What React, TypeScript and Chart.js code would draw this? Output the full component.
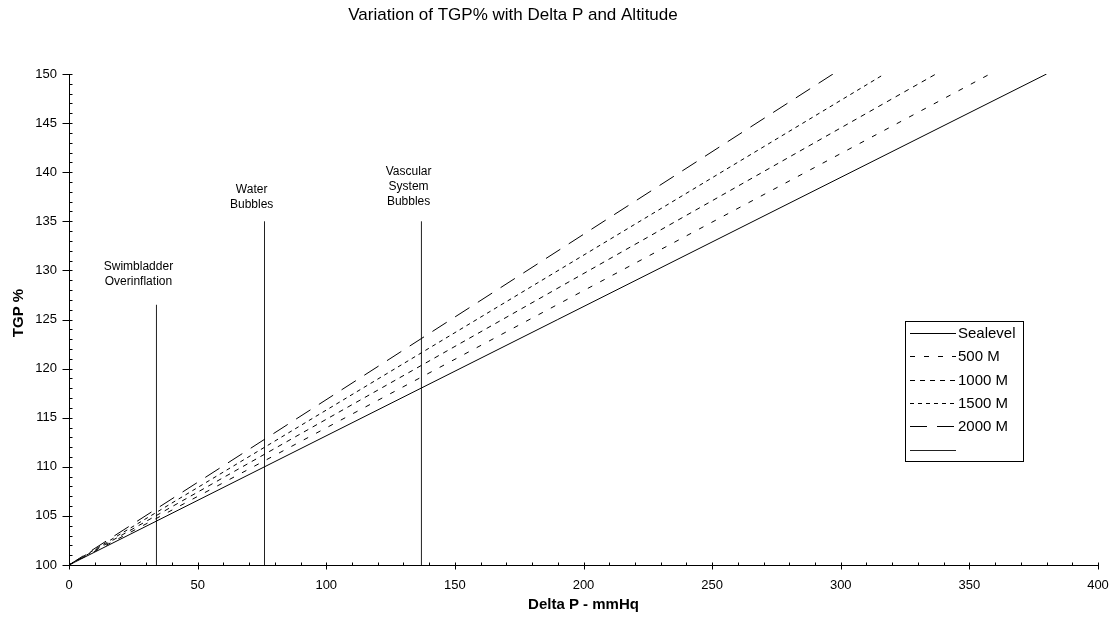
import React, { useEffect, useRef } from "react";
import { Chart, registerables } from "chart.js";

Chart.register(...registerables);

const chartTitle = "Variation of TGP% with Delta P and Altitude";
const xAxisTitle = "Delta P - mmHq";
const yAxisTitle = "TGP %";

const seriesNames = ["Sealevel", "500 M", "1000 M", "1500 M", "2000 M"];
const deltaPStart = [0, 0, 0, 0, 0];
const deltaPEnd = [380, 358, 337, 317, 297];
const tgpStart = [100, 100, 100, 100, 100];
const tgpEnd = [150, 150, 150, 150, 150];

const xMin = 0;
const xMax = 400;
const xStep = 50;
const xMinorStep = 10;
const yMin = 100;
const yMax = 150;
const yStep = 5;
const yMinorStep = 1;

const markerNames = [
  ["Swimbladder", "Overinflation"],
  ["Water", "Bubbles"],
  ["Vascular", "System", "Bubbles"],
];
const markerDeltaP = [34, 76, 137];
const markerTgpBottom = [100, 100, 100];
const markerTgpTop = [126.5, 135, 135];
const markerLabelDeltaP = [27, 71, 132];
const markerLabelTgp = [128.8, 136.7, 137.0];

const FONT = "'Liberation Sans', Arial, sans-serif";
const dashes: number[][] = [[], [5, 9], [5, 5], [4, 4], [17, 10]];

const decorPlugin = {
  id: "decor",
  afterDraw(chart: any) {
    const ctx: CanvasRenderingContext2D = chart.ctx;
    const xs = chart.scales.x;
    const ys = chart.scales.y;
    const ca = chart.chartArea;
    ctx.save();
    ctx.strokeStyle = "#000";
    ctx.fillStyle = "#000";
    ctx.lineWidth = 1;
    ctx.setLineDash([]);

    const L = Math.round(ca.left) + 0.5;
    const B = Math.round(ca.bottom) + 0.5;
    // axis lines
    ctx.beginPath();
    ctx.moveTo(L, Math.round(ca.top));
    ctx.lineTo(L, B);
    ctx.lineTo(Math.round(ca.right) + 1, B);
    ctx.stroke();

    // y ticks
    for (let v = yMin; v <= yMax + 1e-9; v += yMinorStep) {
      const p = Math.round(ys.getPixelForValue(v)) + 0.5;
      const major = Math.abs(v % yStep) < 1e-9;
      ctx.beginPath();
      ctx.moveTo(major ? L - 7 : L, p);
      ctx.lineTo(L + 3, p);
      ctx.stroke();
    }
    // x ticks
    for (let v = xMin; v <= xMax + 1e-9; v += xMinorStep) {
      const p = Math.round(xs.getPixelForValue(v)) + 0.5;
      const major = Math.abs(v % xStep) < 1e-9;
      ctx.beginPath();
      ctx.moveTo(p, B - 3);
      ctx.lineTo(p, major ? B + 4 : B);
      ctx.stroke();
    }

    // title
    ctx.font = `17px ${FONT}`;
    ctx.textAlign = "center";
    ctx.textBaseline = "middle";
    ctx.fillText(chartTitle, 513, 15);

    // axis titles
    ctx.font = `bold 15px ${FONT}`;
    ctx.fillText(xAxisTitle, (ca.left + ca.right) / 2, 605);
    ctx.save();
    ctx.translate(19, 313);
    ctx.rotate(-Math.PI / 2);
    ctx.fillText(yAxisTitle, 0, 0);
    ctx.restore();

    // marker labels
    ctx.font = `12px ${FONT}`;
    markerNames.forEach((lines, i) => {
      const cx = xs.getPixelForValue(markerLabelDeltaP[i]);
      const by = ys.getPixelForValue(markerLabelTgp[i]);
      lines.forEach((t, j) => {
        ctx.fillText(t, cx, by - (lines.length - 1 - j) * 15);
      });
    });

    // legend
    const bx = 905.5, byy = 321.5, bw = 118, bh = 140;
    ctx.fillStyle = "#fff";
    ctx.fillRect(bx, byy, bw, bh);
    ctx.fillStyle = "#000";
    ctx.strokeRect(bx, byy, bw, bh);
    ctx.font = `15px ${FONT}`;
    ctx.textAlign = "left";
    const ds = chart.data.datasets;
    ds.forEach((d: any, i: number) => {
      const y = Math.round(333 + i * 23.3) + 0.5;
      ctx.setLineDash(d.borderDash || []);
      ctx.strokeStyle = d.borderColor;
      ctx.beginPath();
      ctx.moveTo(910, y);
      ctx.lineTo(956, y);
      ctx.stroke();
      ctx.setLineDash([]);
      ctx.fillText(d.label, 958, y);
    });
    ctx.restore();
  },
};

export default function App() {
  const ref = useRef<HTMLCanvasElement | null>(null);
  useEffect(() => {
    document.body.style.margin = "0";
    const canvas = ref.current!;
    const datasets: any[] = seriesNames.map((name, i) => ({
      label: name,
      data: [
        { x: deltaPStart[i], y: tgpStart[i] },
        { x: deltaPEnd[i], y: tgpEnd[i] },
      ],
      borderColor: "#000",
      borderWidth: 1,
      borderDash: dashes[i],
      pointRadius: 0,
      tension: 0,
      fill: false,
    }));
    const markerData: any[] = [];
    markerDeltaP.forEach((x, i) => {
      markerData.push({ x, y: markerTgpBottom[i] });
      markerData.push({ x, y: markerTgpTop[i] });
      markerData.push({ x, y: null });
    });
    datasets.push({
      label: "",
      data: markerData,
      borderColor: "#222",
      borderWidth: 1,
      borderDash: [],
      pointRadius: 0,
      spanGaps: false,
      fill: false,
    });
    const chart = new Chart(canvas, {
      type: "line",
      data: { datasets },
      options: {
        responsive: false,
        maintainAspectRatio: false,
        devicePixelRatio: 1,
        animation: false,
        layout: { padding: { left: 0, right: 14, top: 74, bottom: 0 } },
        plugins: { legend: { display: false }, title: { display: false }, tooltip: { enabled: false } },
        scales: {
          x: {
            type: "linear",
            min: xMin,
            max: xMax,
            grid: { display: false, drawTicks: false },
            border: { display: false },
            ticks: { stepSize: xStep, padding: 13, color: "#000", font: { family: FONT, size: 13 }, maxRotation: 0 },
            afterFit: (s: any) => {
              s.height = 54;
              s.paddingLeft = 0;
              s.paddingRight = 0;
            },
          },
          y: {
            type: "linear",
            min: yMin,
            max: yMax,
            grid: { display: false, drawTicks: false },
            border: { display: false },
            ticks: { stepSize: yStep, padding: 12, color: "#000", font: { family: FONT, size: 13 } },
            afterFit: (s: any) => {
              s.width = 69;
              s.paddingTop = 0;
              s.paddingBottom = 0;
            },
          },
        },
      },
      plugins: [decorPlugin],
    });
    return () => chart.destroy();
  }, []);
  return (
    <canvas ref={ref} width={1112} height={619} style={{ display: "block", width: 1112, height: 619 }} />
  );
}
